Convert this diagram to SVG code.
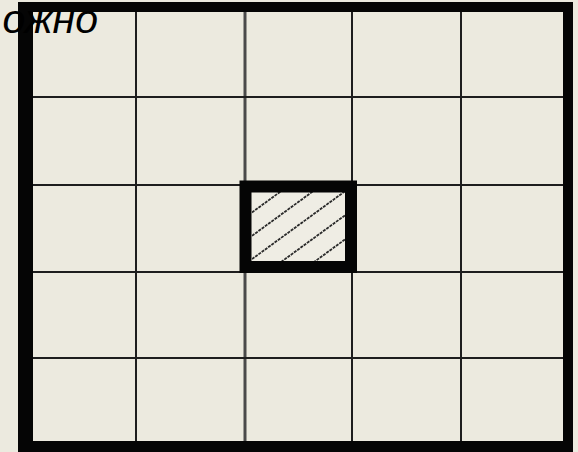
<svg xmlns="http://www.w3.org/2000/svg" width="578" height="452" viewBox="0 0 578 452">
  <style>
    .grid { stroke: #1e1e1e; stroke-width: 2; fill: none; }
    .soft { stroke: #4a4a4a; stroke-width: 3; }
    .hatch { stroke: #2a2a2a; stroke-width: 1.8; stroke-dasharray: 3 1; fill: none; }
    .label { font-family: "Liberation Sans", Arial, sans-serif; font-style: italic; font-size: 41px; fill: #000; }
  </style>
  <defs>
    <clipPath id="inner">
      <rect x="252" y="192" width="94" height="69"/>
    </clipPath>
  </defs>
  <rect x="0" y="0" width="578" height="452" fill="#ECEADF"/>
  <g id="grid">
    <line class="grid" x1="136" y1="12" x2="136" y2="441"/>
    <line class="grid soft" x1="245" y1="12" x2="245" y2="441"/>
    <line class="grid" x1="352" y1="12" x2="352" y2="441"/>
    <line class="grid" x1="461" y1="12" x2="461" y2="441"/>
    <line class="grid" x1="33" y1="97" x2="563" y2="97"/>
    <line class="grid" x1="33" y1="185" x2="563" y2="185"/>
    <line class="grid" x1="33" y1="272" x2="563" y2="272"/>
    <line class="grid" x1="33" y1="358" x2="563" y2="358"/>
  </g>
  <g id="frame">
    <path d="M18 2 H573 V452 H18 Z M33 12 V441 H563 V12 Z" fill="#050505" fill-rule="evenodd"/>
  </g>
  <g id="center-cell">
    <rect x="246" y="187" width="105" height="80" fill="#EFEDE4"/>
    <g clip-path="url(#inner)" class="hatch">
      <line x1="252" y1="212.4" x2="346" y2="143.8"/>
      <line x1="252" y1="235.8" x2="346" y2="167.2"/>
      <line x1="252" y1="259.1" x2="346" y2="190.5"/>
      <line x1="252" y1="283.2" x2="346" y2="214.6"/>
      <line x1="252" y1="307.3" x2="346" y2="238.7"/>
    </g>
    <rect x="245.5" y="186.5" width="105.5" height="80.5" fill="none" stroke="#050505" stroke-width="12"/>
  </g>
  <g id="label">
    <text class="label" x="98" y="33" text-anchor="end">ожно</text>
  </g>
</svg>
